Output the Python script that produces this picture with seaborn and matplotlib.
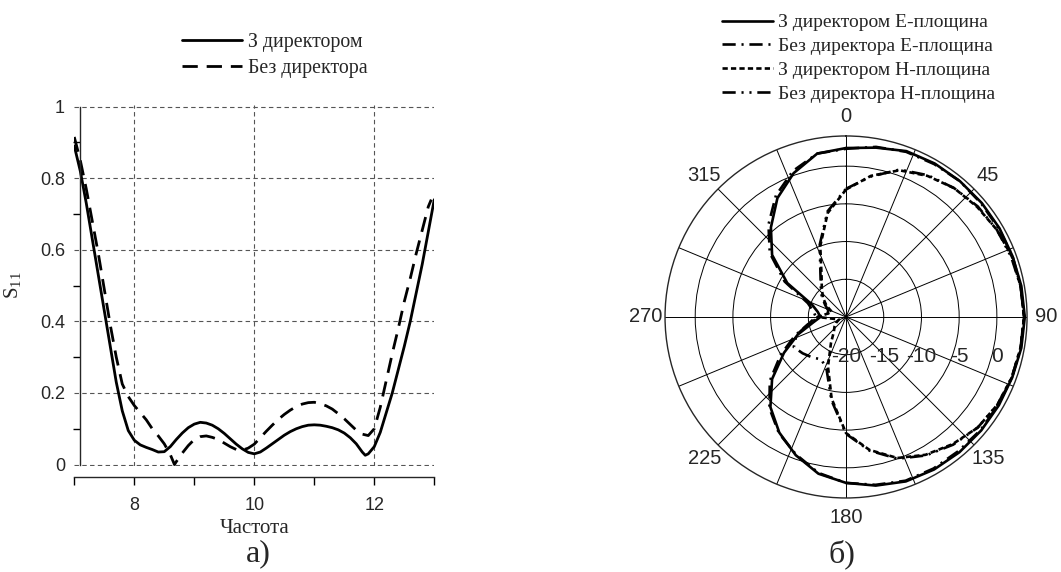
import numpy as np
import pandas as pd
import matplotlib
matplotlib.use("Agg")
import matplotlib.pyplot as plt
from matplotlib import transforms
import seaborn as sns

# ---------------- data: S11 vs frequency ----------------
freq_with = [7.0, 7.1, 7.2, 7.3, 7.4, 7.5, 7.6, 7.7, 7.8, 7.9,
             8.0, 8.1, 8.2, 8.3, 8.4, 8.5, 8.6, 8.7, 8.8, 8.9,
             9.0, 9.1, 9.2, 9.3, 9.4, 9.5, 9.6, 9.7, 9.8, 9.9,
             10.0, 10.1, 10.2, 10.3, 10.4, 10.5, 10.6, 10.7, 10.8, 10.9,
             11.0, 11.1, 11.2, 11.3, 11.4, 11.5, 11.6, 11.7, 11.8, 11.85,
             11.9, 12.0, 12.1, 12.2, 12.3, 12.4, 12.5, 12.6, 12.7, 12.8, 12.9, 13.0]
s11_with = [0.89, 0.82, 0.73, 0.63, 0.53, 0.43, 0.33, 0.23, 0.15, 0.095,
            0.068, 0.055, 0.048, 0.042, 0.035, 0.036, 0.05, 0.07, 0.088, 0.103,
            0.113, 0.118, 0.116, 0.110, 0.100, 0.087, 0.072, 0.057, 0.044, 0.034,
            0.030, 0.035, 0.046, 0.058, 0.070, 0.082, 0.092, 0.100, 0.106, 0.110,
            0.111, 0.110, 0.107, 0.103, 0.097, 0.088, 0.075, 0.058, 0.035, 0.026,
            0.030, 0.05, 0.09, 0.145, 0.20, 0.265, 0.33, 0.40, 0.48, 0.56, 0.65, 0.74]

freq_without = [7.0, 7.1, 7.2, 7.3, 7.4, 7.5, 7.6, 7.7, 7.8, 7.9,
                8.0, 8.1, 8.2, 8.3, 8.4, 8.5, 8.6, 8.67, 8.7, 8.8, 8.9,
                9.0, 9.1, 9.2, 9.3, 9.4, 9.5, 9.6, 9.7, 9.8, 9.9,
                10.0, 10.1, 10.2, 10.3, 10.4, 10.5, 10.6, 10.7, 10.8, 10.9,
                11.0, 11.1, 11.2, 11.3, 11.4, 11.5, 11.6, 11.7, 11.8, 11.9,
                12.0, 12.1, 12.2, 12.3, 12.4, 12.5, 12.6, 12.7, 12.8, 12.9, 12.95]
s11_without = [0.915, 0.85, 0.77, 0.68, 0.59, 0.49, 0.39, 0.30, 0.225, 0.19,
               0.165, 0.145, 0.125, 0.10, 0.08, 0.058, 0.028, 0.0, 0.008, 0.032, 0.053,
               0.070, 0.078, 0.080, 0.076, 0.070, 0.060, 0.050, 0.042, 0.040, 0.046,
               0.057, 0.075, 0.093, 0.110, 0.126, 0.140, 0.152, 0.162, 0.169, 0.173,
               0.174, 0.170, 0.164, 0.155, 0.142, 0.128, 0.112, 0.096, 0.085, 0.081,
               0.10, 0.16, 0.235, 0.31, 0.38, 0.455, 0.52, 0.59, 0.655, 0.72, 0.74]

x_ticks = [8, 10, 12]
y_ticks = [0, 0.2, 0.4, 0.6, 0.8, 1]
y_ticklabels = ["0", "0.2", "0.4", "0.6", "0.8", "1"]
legend_left = ["З директором", "Без директора"]

# ---------------- data: radiation patterns (dB) ----------------
angles_deg = list(range(0, 361, 10))
e_with = [2.4, 2.8, 3.4, 3.5, 3.5, 3.5, 3.5, 3.5, 3.6, 3.7,
          3.6, 3.45, 3.4, 3.4, 3.4, 3.35, 3.2, 2.7, 2.0, 1.1,
          -0.5, -2.3, -4.4, -7.2, -10.5, -13.2, -15.5, -16.6, -16.2, -15.2,
          -11.0, -7.2, -4.5, -1.8, 0.3, 2.0, 2.4]
e_without = [2.3, 2.9, 3.3, 3.4, 3.5, 3.4, 3.4, 3.5, 3.5, 3.6,
             3.5, 3.4, 3.3, 3.3, 3.2, 3.2, 3.1, 2.6, 2.0, 1.0,
             -0.6, -2.2, -4.2, -6.8, -10.0, -12.8, -15.0, -16.0, -15.6, -14.6,
             -10.6, -6.8, -4.0, -1.4, 0.6, 2.0, 2.3]
h_with = [-3.1, -1.0, 0.7, 1.6, 2.3, 2.7, 3.1, 3.4, 3.5, 3.6,
          3.5, 3.4, 3.2, 2.8, 2.0, 1.1, -0.1, -2.1, -4.6, -9.0,
          -13.0, -16.0, -17.5, -18.0, -18.5, -19.0, -18.5, -16.2, -17.5, -18.0,
          -17.0, -16.0, -15.0, -13.5, -10.0, -6.0, -3.1]
h_without = [-3.0, -1.1, 0.8, 1.7, 2.3, 2.8, 3.1, 3.3, 3.5, 3.6,
             3.5, 3.4, 3.2, 2.8, 2.1, 1.2, 0.0, -2.0, -4.5, -8.8,
             -12.5, -13.5, -13.0, -12.5, -12.0, -13.0, -15.0, -16.5, -17.5, -17.5,
             -16.8, -15.8, -14.8, -13.2, -9.8, -5.8, -3.0]
r_ticks = [-20, -15, -10, -5, 0]
theta_labels = ["0", "45", "90", "135", "180", "225", "270", "315"]
legend_right = ["З директором Е-площина", "Без директора Е-площина",
                "З директором Н-площина", "Без директора Н-площина"]

# ---------------- style ----------------
sns.set_theme(style="white")
plt.rcParams["font.family"] = ["Liberation Sans", "DejaVu Sans"]
plt.rcParams["axes.linewidth"] = 1.0
SERIF = ["Liberation Serif", "DejaVu Serif"]

fig = plt.figure(figsize=(10.61, 5.72), dpi=100)
fig.patch.set_facecolor("white")

# ---------------- left: S11 ----------------
ax = fig.add_axes([0.070, 0.1853, 0.3393, 0.631])
df_w = pd.DataFrame({"f": freq_with, "s": s11_with})
df_wo = pd.DataFrame({"f": freq_without, "s": s11_without})
sns.lineplot(data=df_w, x="f", y="s", ax=ax, color="black", lw=2.0,
             sort=False, estimator=None, label=legend_left[0])
sns.lineplot(data=df_wo, x="f", y="s", ax=ax, color="black", lw=2.0,
             sort=False, estimator=None, label=legend_left[1])
ax.lines[1].set_dashes((5.5, 3.2))

ax.set_xlim(7, 13)
ax.set_ylim(-0.004, 1.004)
for s in ["top", "right"]:
    ax.spines[s].set_visible(False)
ax.spines["left"].set_position(("data", 7.1))
ax.spines["left"].set_bounds(0, 1)
ax.spines["bottom"].set_position(("outward", 8))
ax.spines["bottom"].set_bounds(7, 13)
ax.set_xticks(x_ticks)
ax.set_xticks([7, 9, 11, 13], minor=True)
ax.set_yticks(y_ticks)
ax.set_yticklabels(y_ticklabels)
ax.set_yticks([0.1, 0.3, 0.5, 0.7, 0.9], minor=True)
ax.tick_params(axis="both", which="both", direction="out", color="black", labelsize=13)
ax.tick_params(axis="y", which="major", length=8, width=1, pad=3)
ax.tick_params(axis="y", which="minor", length=5, width=1, left=True)
ax.tick_params(axis="x", which="both", length=6, width=1, bottom=True, pad=8)
ax.grid(True, which="major", color="#555555", lw=0.8, ls=(0, (4, 3)))
ax.set_xlabel("Частота", family=SERIF, fontsize=15, labelpad=4)
ax.set_ylabel(r"$\mathregular{S_{11}}$", family=SERIF, fontsize=15, labelpad=12)
ax.legend(loc="upper left", bbox_to_anchor=(0.1715, 0.943), bbox_transform=fig.transFigure,
          frameon=False, prop={"family": SERIF, "size": 14.3}, handlelength=3.0,
          handletextpad=0.3, labelspacing=0.38, borderpad=0, borderaxespad=0)

# ---------------- right: polar ----------------
pax = fig.add_axes([0.6268, 0.1294, 0.3412, 0.6329], projection="polar")
pax.set_theta_zero_location("N")
pax.set_theta_direction(-1)
th = np.deg2rad(angles_deg)
styles = [None, (5, 2.2, 0.8, 2.2), (2.0, 1.2), (5, 2.2, 0.8, 2.2, 0.8, 2.2)]
for vals, lab, dsh in zip([e_with, e_without, h_with, h_without], legend_right, styles):
    sns.lineplot(x=th, y=vals, ax=pax, color="black", lw=1.9, sort=False,
                 estimator=None, label=lab)
    if dsh is not None:
        pax.lines[-1].set_dashes(dsh)
pax.set_xlabel("")
pax.set_ylabel("")
pax.set_rlim(-20, 4)
pax.set_rgrids(r_ticks[1:], labels=[""] * 4)
grid_angles = np.arange(0, 360, 22.5)
pax.set_thetagrids(grid_angles, labels=[theta_labels[int(a // 45)] if a % 45 == 0 else ""
                                        for a in grid_angles], fontsize=14.5)
pax.tick_params(axis="x", pad=1)
pax.grid(True, color="black", lw=0.7, ls="-")
pax.spines["polar"].set_linewidth(1.0)
pax.set_facecolor("white")
off = transforms.offset_copy(pax.transData, fig=fig, x=0, y=-40, units="dots")
for r in r_ticks:
    pax.text(np.pi / 2, r, str(r), transform=off, ha="center", va="center", fontsize=15)
pax.legend(loc="upper left", bbox_to_anchor=(0.6805, 0.976), bbox_transform=fig.transFigure,
           frameon=False, prop={"family": SERIF, "size": 14}, handlelength=2.6,
           handletextpad=0.3, labelspacing=0.32, borderpad=0, borderaxespad=0)

fig.text(258 / 1061, 1 - 554 / 572, "а)", family=SERIF, fontsize=23, ha="center", va="center")
fig.text(842 / 1061, 1 - 554 / 572, "б)", family=SERIF, fontsize=23, ha="center", va="center")

fig.savefig("out.png", dpi=100, facecolor="white")
